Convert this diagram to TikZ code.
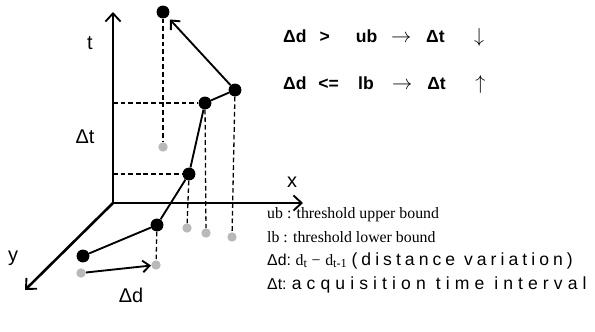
\documentclass[tikz,border=0pt]{standalone}
\usepackage{fontspec}
\setmainfont{Liberation Serif}
\newfontfamily\gulim{Liberation Sans}
\newfontfamily\gulimwide[LetterSpace=29]{Liberation Sans}
\newfontfamily\gulimmid[LetterSpace=23]{Liberation Sans}
\usetikzlibrary{arrows.meta}
\newcommand{\subtxt}[1]{\raisebox{-2.5pt}{\fontsize{10.5}{10.5}\selectfont#1}}
\newcommand{\ruleto}{{\fontsize{17}{17}\selectfont$\rightarrow$}}
\newcommand{\widetxt}[1]{{\gulimwide\fontsize{15}{16}\selectfont#1}}
\newcommand{\midtxt}[1]{{\gulimmid\fontsize{15}{16}\selectfont#1}}

\begin{document}
\begin{tikzpicture}[x=0.03cm,y=-0.03cm,
    axis/.style={line width=2.2pt,-{Straight Barb[length=7pt,width=13pt,line width=1.6pt]}},
    track/.style={line width=1.6pt},
    guide/.style={line width=1.1pt,dash pattern=on 4pt off 2.5pt},
    blackdot/.style={circle,fill=black,inner sep=0pt,minimum size=11pt},
    greydot/.style={circle,fill=gray!55,inner sep=0pt,minimum size=8pt},
    lbl/.style={font=\gulim\fontsize{17}{19}\selectfont,inner sep=0pt},
    rule/.style={anchor=base west,font=\gulim\bfseries\fontsize{15}{17}\selectfont,inner sep=0pt},
    legend/.style={anchor=base west,inner sep=0pt,font=\fontsize{13.5}{16}\selectfont}]
  \useasboundingbox (0,0) rectangle (595,331);

  % axes
  \coordinate (O) at (113,203);
  \coordinate (tend) at (113,12);
  \coordinate (xend) at (303,203);
  \coordinate (yend) at (25,290);
  \draw[axis] (O) -- (tend);
  \draw[axis] (O) -- (xend);
  \draw[axis] (O) -- (yend);
  \node[lbl] (tlbl) at (90,43) {t};
  \node[lbl] (xlbl) at (292,182) {x};
  \node[lbl] (ylbl) at (13,258) {y};
  \node[lbl] (dtlbl) at (85,137) {Δt};
  \node[lbl] (ddlbl) at (131,295) {Δd};

  % positions and their projections
  \node[greydot] (q0) at (81,273) {};
  \node[greydot] (q1) at (156,265) {};
  \node[greydot] (q2) at (187,228) {};
  \node[greydot] (q3) at (206,233) {};
  \node[greydot] (q4) at (232,237) {};
  \node[greydot] (q5) at (163,147) {};
  \node[blackdot] (p0) at (83,256) {};
  \node[blackdot] (p1) at (157,225) {};
  \node[blackdot] (p2) at (189,174) {};
  \node[blackdot] (p3) at (205,103) {};
  \node[blackdot] (p4) at (235,90) {};
  \node[blackdot] (p5) at (163,12) {};

  \draw[guide] (p1) -- (q1);
  \draw[guide] (p2) -- (q2);
  \draw[guide] (p3) -- (q3);
  \draw[guide] (p4) -- (q4);
  \draw[guide] (p5) -- (q5);
  \draw[guide] (tend |- p3) -- (p3);
  \draw[guide] (tend |- p2) -- (p2);

  \draw[track] (p0) -- (p1) -- (p2) -- (p3) -- (p4);
  \draw[track,-{Straight Barb[length=6pt,width=11pt]},shorten >=3pt] (p4) -- (p5);
  \draw[track,-{Straight Barb[length=6pt,width=10pt]}] (q0) -- (q1);

  % rules
  \node[rule] (rule1) at (283,42)
    {\makebox[31pt][l]{Δd}\makebox[31pt][l]{>}\makebox[30pt][l]{ub}\makebox[30pt][l]{\ruleto}\makebox[41pt][l]{Δt}{\fontsize{17}{17}\selectfont$\downarrow$}};
  \node[rule] (rule2) at (283,89)
    {\makebox[30pt][l]{Δd}\makebox[34pt][l]{<=}\makebox[29pt][l]{lb}\makebox[30pt][l]{\ruleto}\makebox[41pt][l]{Δt}{\fontsize{17}{17}\selectfont$\uparrow$}};

  % legend
  \node[legend] (leg1) at (267,218) {ub : threshold upper bound};
  \node[legend] (leg2) at (267,242) {lb : threshold lower bound};
  \node[legend] (leg3) at (267,265)
    {{\gulim Δd:}\hspace{4pt}d\subtxt{t}\hspace{4pt}−\hspace{4pt}d\subtxt{t-1}\hspace{4pt}\midtxt{(distance variation)}};
  \node[legend] (leg4) at (267,289)
    {{\gulim Δt:} \widetxt{acquisition time interval}};
\end{tikzpicture}
\end{document}
